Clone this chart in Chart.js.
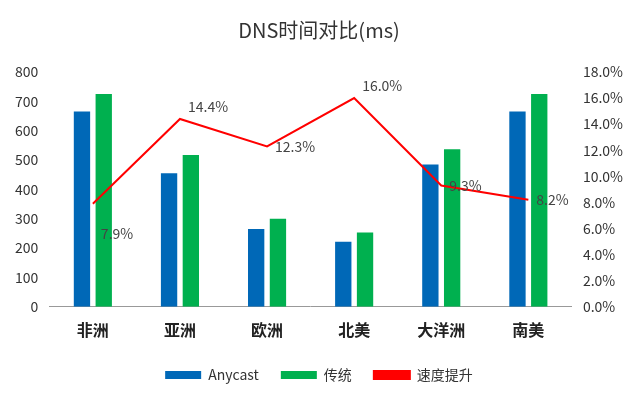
<!DOCTYPE html><html><head><meta charset="utf-8">
<script src="https://cdn.jsdelivr.net/npm/chart.js@4"></script>
<style>html,body{margin:0;background:#fff}#w{width:640px;height:404px}</style></head><body>
<div id="w"><canvas id="c"></canvas></div>
<script>
const categories=['非洲','亚洲','欧洲','北美','大洋洲','南美'];
const anycast=[665,455,265,222,485,665];
const traditional=[725,517,300,253,537,725];
const speedup=[7.9,14.4,12.3,16.0,9.3,8.2];
const F='"Noto Sans CJK SC","Noto Sans",sans-serif';
const labelPlugin={id:'lbl',afterDatasetsDraw(ch){const ctx=ch.ctx;const m=ch.getDatasetMeta(2);ctx.save();ctx.font='14px '+F;ctx.fillStyle='#444';ctx.textBaseline='middle';
m.data.forEach((p,i)=>{const dy=i===0?30:(i===1||i===3?-12:0);ctx.fillText(speedup[i].toFixed(1)+'%',p.x+8,p.y+dy);});ctx.restore();}};
new Chart(document.getElementById('c'),{type:'bar',data:{labels:categories,datasets:[
{label:'Anycast',data:anycast,backgroundColor:'#0068b7',yAxisID:'y',barPercentage:0.75,categoryPercentage:0.5,order:2},
{label:'传统',data:traditional,backgroundColor:'#00b04f',yAxisID:'y',barPercentage:0.75,categoryPercentage:0.5,order:2},
{label:'速度提升',type:'line',data:speedup,borderColor:'#ff0000',backgroundColor:'#ff0000',borderWidth:2,pointRadius:0,yAxisID:'y1',order:1}]},
options:{responsive:true,maintainAspectRatio:false,animation:false,layout:{padding:{left:12,right:14,top:8,bottom:12}},
plugins:{title:{display:true,text:'DNS时间对比(ms)',font:{family:F,size:20,weight:'normal'},color:'#333',padding:{top:10,bottom:30}},
legend:{position:'bottom',labels:{font:{family:F,size:14},color:'#333',boxWidth:36,boxHeight:8,padding:22,sort:(a,b)=>a.datasetIndex-b.datasetIndex},onClick:null},tooltip:{enabled:false}},
scales:{x:{grid:{display:false},border:{color:'#999'},ticks:{font:{family:F,size:16,weight:'bold'},color:'#222',padding:6}},
y:{min:0,max:800,ticks:{stepSize:100,font:{family:F,size:14},color:'#333'},grid:{display:false},border:{display:false}},
y1:{position:'right',min:0,max:18,ticks:{stepSize:2,callback:v=>v.toFixed(1)+'%',font:{family:F,size:14},color:'#333'},grid:{display:false},border:{display:false}}}},
plugins:[labelPlugin]});
</script></body></html>
